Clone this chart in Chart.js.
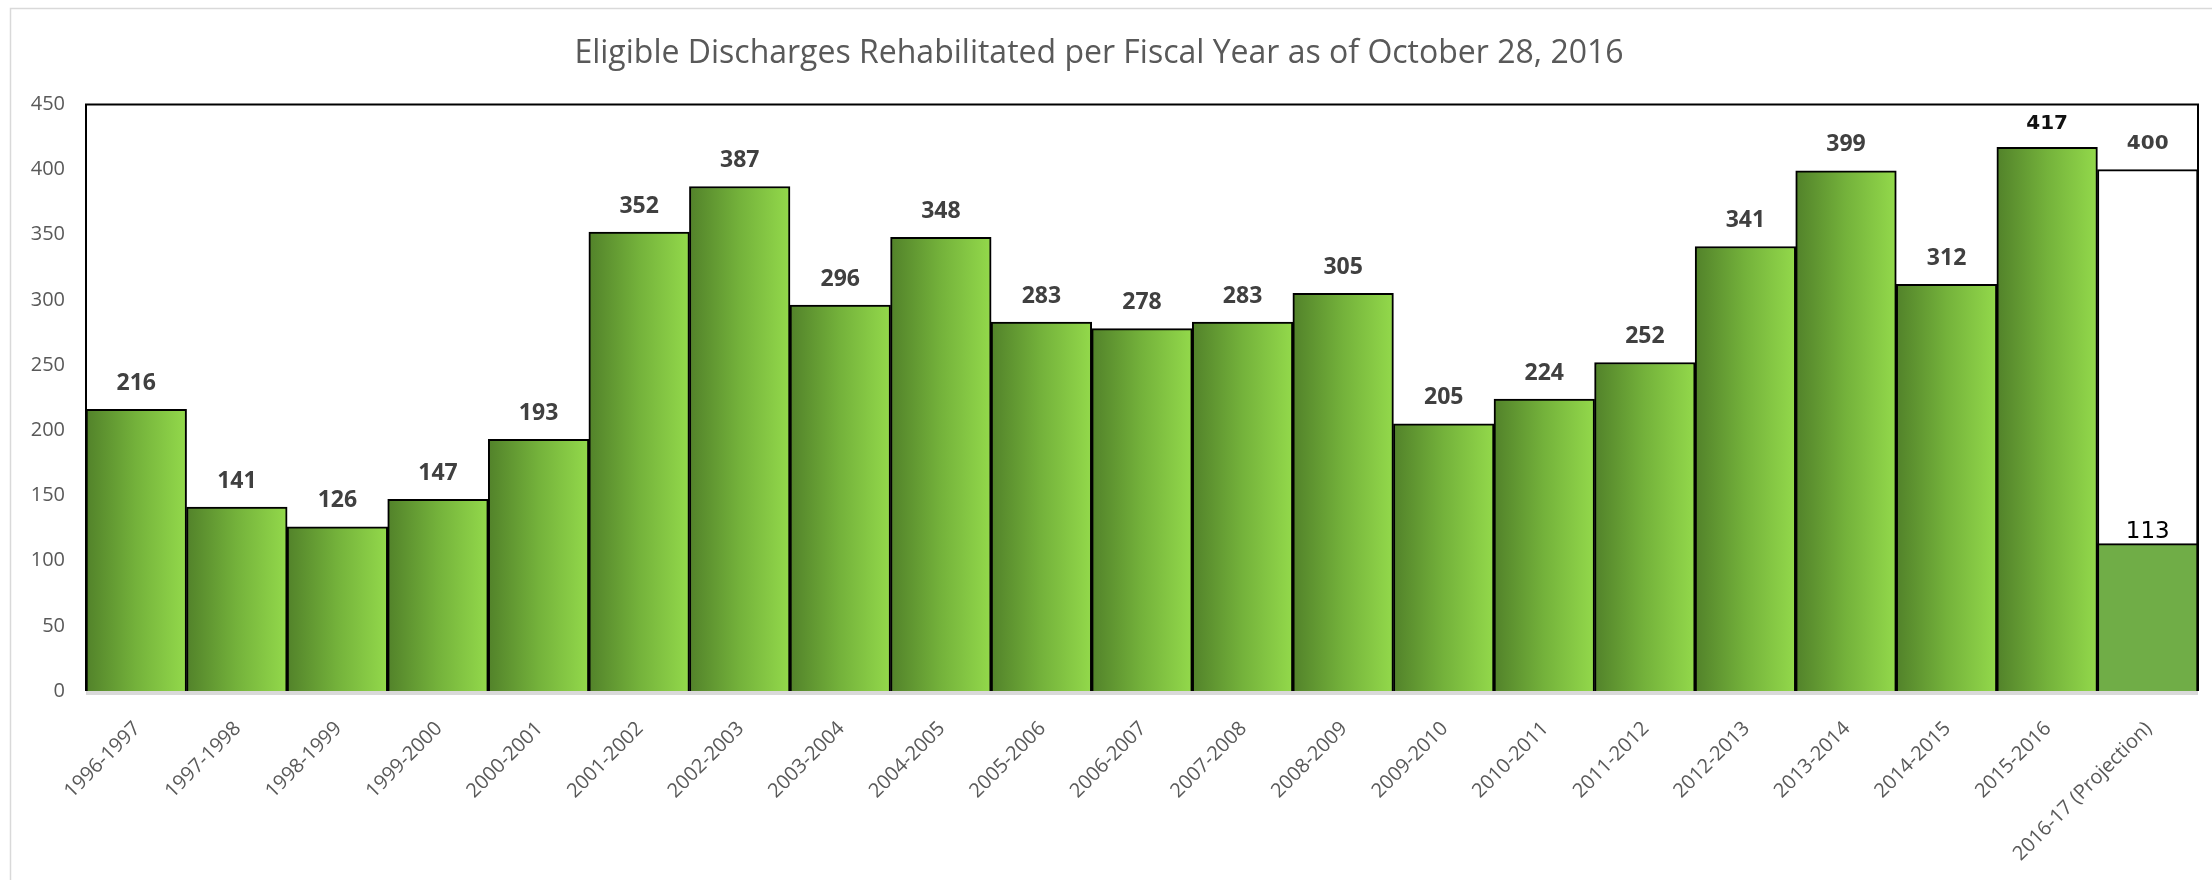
<!DOCTYPE html>
<html>
<head>
<meta charset="utf-8">
<script src="https://cdn.jsdelivr.net/npm/chart.js@4"></script>
<style>
  body { margin: 0; background: #fff; }
  #wrap { width: 2212px; height: 880px; }
</style>
</head>
<body>
<div id="wrap"><canvas id="barChart"></canvas></div>
<script>
  // ────────── Data ──────────
  const fiscalYears = ['1996-1997', '1997-1998', '1998-1999', '1999-2000', '2000-2001', '2001-2002',
    '2002-2003', '2003-2004', '2004-2005', '2005-2006', '2006-2007', '2007-2008', '2008-2009',
    '2009-2010', '2010-2011', '2011-2012', '2012-2013', '2013-2014', '2014-2015', '2015-2016',
    '2016-17 (Projection)'];
  const discharges = [216, 141, 126, 147, 193, 352, 387, 296, 348, 283, 278, 283, 305,
    205, 224, 252, 341, 399, 312, 417, 113];
  const projection = [null, null, null, null, null, null, null, null, null, null, null, null, null,
    null, null, null, null, null, null, null, 400];
  const yMin = 0, yMax = 450, yStep = 50;

  const titleText = 'Eligible Discharges Rehabilitated per Fiscal Year as of October 28, 2016';
  const lastIdx = fiscalYears.length - 1;

  // ────────── Bar fill: horizontal gradient per bar ──────────
  function barFill(ctx) {
    const chart = ctx.chart;
    const xs = chart.scales.x;
    if (ctx.dataIndex === lastIdx) return '#70AD47';
    if (!chart.chartArea || !xs) return '#70AD47';
    const c = xs.getPixelForValue(ctx.dataIndex);
    const w = xs.width / fiscalYears.length;
    const g = chart.ctx.createLinearGradient(c - w / 2, 0, c + w / 2, 0);
    g.addColorStop(0, '#52822A');
    g.addColorStop(0.5, '#74B23B');
    g.addColorStop(1, '#93D94B');
    return g;
  }

  // ────────── Frame, axis line, value labels ──────────
  const decorations = {
    id: 'decorations',
    beforeDraw(chart) {
      const ctx = chart.ctx;
      ctx.save();
      ctx.strokeStyle = '#d9d9d9';
      ctx.lineWidth = 1.5;
      ctx.beginPath();
      ctx.moveTo(10.5, 900);
      ctx.lineTo(10.5, 8.5);
      ctx.lineTo(2300, 8.5);
      ctx.stroke();
      ctx.restore();
    },
    afterDatasetsDraw(chart) {
      const ctx = chart.ctx;
      const a = chart.chartArea;
      ctx.save();
      // axis line under bars
      ctx.fillStyle = '#d9d9d9';
      ctx.fillRect(a.left, a.bottom, a.right - a.left, 4);
      // plot frame
      ctx.strokeStyle = '#000';
      ctx.lineWidth = 2;
      ctx.beginPath();
      ctx.moveTo(a.left, a.bottom);
      ctx.lineTo(a.left, a.top);
      ctx.lineTo(a.right, a.top);
      ctx.lineTo(a.right, a.bottom);
      ctx.stroke();

      // value labels
      ctx.textAlign = 'center';
      ctx.textBaseline = 'middle';
      chart.getDatasetMeta(0).data.forEach((bar, i) => {
        const v = discharges[i];
        if (i === lastIdx) {
          ctx.font = '23px "DejaVu Sans"';
          ctx.fillStyle = '#000';
          ctx.fillText(v, bar.x, bar.y - 12);
        } else if (i === lastIdx - 1) {
          ctx.font = 'bold 20px "DejaVu Sans"';
          ctx.fillStyle = '#111';
          ctx.fillText(v, bar.x, bar.y - 24);
        } else {
          ctx.font = 'bold 23px "Open Sans"';
          ctx.fillStyle = '#404040';
          ctx.fillText(v, bar.x, bar.y - 26);
        }
      });
      chart.getDatasetMeta(1).data.forEach((bar, i) => {
        if (projection[i] == null) return;
        ctx.font = 'bold 20px "DejaVu Sans"';
        ctx.fillStyle = '#404040';
        ctx.fillText(projection[i], bar.x, bar.y - 26);
      });
      ctx.restore();
    }
  };

  // ────────── Chart ──────────
  const chartCanvas = document.getElementById('barChart');
  const barChart = new Chart(chartCanvas.getContext('2d'), {
    type: 'bar',
    data: {
      labels: fiscalYears,
      datasets: [
        {
          label: 'Discharges',
          data: discharges,
          backgroundColor: barFill,
          borderColor: '#000',
          borderWidth: 2,
          grouped: false,
          categoryPercentage: 1,
          barPercentage: 1
        },
        {
          label: 'Projection',
          data: projection,
          backgroundColor: '#fff',
          borderColor: '#000',
          borderWidth: 2,
          grouped: false,
          categoryPercentage: 1,
          barPercentage: 1
        }
      ]
    },
    options: {
      responsive: true,
      maintainAspectRatio: false,
      animation: false,
      layout: { padding: { left: 0, right: 14, top: 0, bottom: 0 } },
      plugins: {
        legend: { display: false },
        tooltip: { enabled: false },
        title: {
          display: true,
          text: titleText,
          color: '#595959',
          font: { family: 'Open Sans', size: 32, weight: 'normal', lineHeight: 1.2 },
          padding: { top: 35, bottom: 31 }
        }
      },
      scales: {
        x: {
          grid: { display: false },
          border: { display: false },
          ticks: {
            autoSkip: false,
            minRotation: 45,
            maxRotation: 45,
            padding: 18,
            labelOffset: 1,
            color: '#595959',
            font: { family: 'Open Sans', size: 20 }
          },
          afterFit(scale) { scale.height = 189; }
        },
        y: {
          min: yMin,
          max: yMax,
          grid: { display: false },
          border: { display: false },
          ticks: {
            stepSize: yStep,
            padding: 13,
            color: '#595959',
            font: { family: 'Open Sans', size: 20 }
          },
          afterFit(scale) { scale.width = 86; }
        }
      }
    },
    plugins: [decorations]
  });
</script>
</body>
</html>
